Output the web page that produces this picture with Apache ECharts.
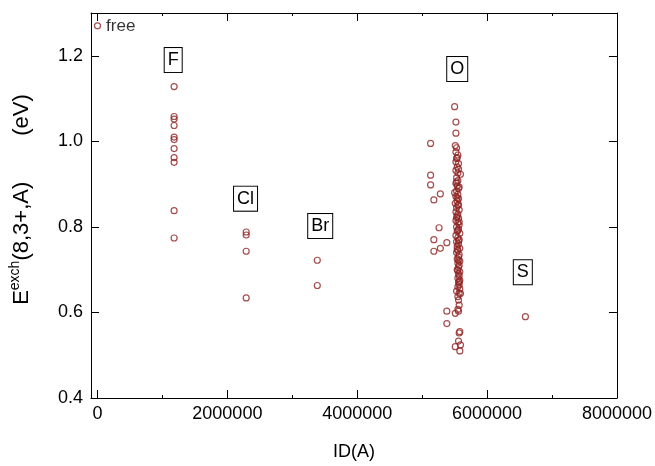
<!DOCTYPE html>
<html>
<head>
<meta charset="utf-8">
<script src="https://cdn.jsdelivr.net/npm/echarts@6/dist/echarts.min.js"></script>
<style>html,body{margin:0;padding:0;background:#fff}#c{width:655px;height:466px}</style>
</head>
<body>
<div id="c"></div>
<script>
// ---- data ----
const xTicks = [0, 2000000, 4000000, 6000000, 8000000];
const xMinorTicks = [1000000, 3000000, 5000000, 7000000];
const yTicks = [0.4, 0.6, 0.8, 1.0, 1.2];

const freePoints = [[0, 1.27]];
const fPoints = [[1180000,1.128],[1180000,1.058],[1180000,1.052],[1180000,1.037],[1180000,1.010],[1180000,1.004],[1180000,0.983],[1180000,0.962],[1180000,0.951],[1180000,0.838],[1180000,0.774]];
const clPoints = [[2290000,0.788],[2290000,0.781],[2290000,0.743],[2290000,0.634]];
const brPoints = [[3385000,0.722],[3385000,0.663]];
const sPoints = [[6590000,0.590]];
const oPoints = [
 [5500000,1.081],[5520000,1.045],[5520000,1.019],[5510000,0.990],[5530000,0.985],[5520000,0.975],
 [5550000,0.968],[5530000,0.960],[5520000,0.952],[5560000,0.948],[5540000,0.940],[5520000,0.932],
 [5550000,0.926],[5590000,0.923],[5530000,0.915],[5550000,0.908],[5520000,0.902],[5540000,0.896],
 [5560000,0.890],[5530000,0.884],[5500000,0.880],[5550000,0.876],[5520000,0.871],[5560000,0.866],
 [5540000,0.860],[5510000,0.855],[5550000,0.850],[5530000,0.845],[5570000,0.840],[5520000,0.835],
 [5550000,0.830],[5540000,0.825],[5560000,0.820],[5520000,0.815],[5550000,0.810],[5570000,0.805],
 [5530000,0.800],[5560000,0.795],[5540000,0.790],[5580000,0.785],[5520000,0.780],[5550000,0.775],
 [5570000,0.770],[5530000,0.765],[5560000,0.760],[5540000,0.755],[5580000,0.750],[5550000,0.745],
 [5530000,0.740],[5570000,0.735],[5560000,0.730],[5540000,0.725],[5580000,0.720],[5550000,0.715],
 [5570000,0.710],[5560000,0.705],[5540000,0.700],[5580000,0.695],[5560000,0.690],[5570000,0.685],
 [5550000,0.680],[5580000,0.675],[5560000,0.670],[5570000,0.665],[5550000,0.660],[5580000,0.655],
 [5530000,0.650],[5570000,0.645],[5590000,0.644],[5550000,0.637],[5560000,0.629],[5570000,0.617],
 [5550000,0.607],[5560000,0.603],[5510000,0.598],[5580000,0.555],[5570000,0.552],[5560000,0.533],
 [5510000,0.520],[5590000,0.524],[5580000,0.510],
 [5540000,0.962],[5560000,0.935],[5530000,0.905],[5570000,0.893],[5540000,0.868],[5560000,0.852],
 [5530000,0.822],[5570000,0.812],[5550000,0.792],[5560000,0.768],[5540000,0.748],[5560000,0.722],
 [5550000,0.698],[5570000,0.672],
 [5130000,0.995],[5130000,0.921],[5130000,0.898],[5280000,0.877],[5180000,0.863],[5260000,0.798],
 [5180000,0.770],[5380000,0.763],[5280000,0.750],[5180000,0.743],[5380000,0.603],[5380000,0.574]
];
const boxNames = ['F', 'Cl', 'Br', 'O', 'S'];
const boxX = [1166000, 2280000, 3430000, 5540000, 6550000];
const boxY = [1.19, 0.866, 0.802, 1.169, 0.694];

// ---- chart ----
const FONT = 'Liberation Sans, Arial, Helvetica, sans-serif';
const RED = '#8f2222';
const chart = echarts.init(document.getElementById('c'), null, {renderer: 'canvas'});

const ptStyle = {color: 'transparent', borderColor: RED, borderWidth: 1.2};
function sc(data, extra) {
  return Object.assign({
    type: 'scatter', data: data, symbol: 'circle', symbolSize: 6,
    itemStyle: ptStyle, emphasis: {disabled: true}, silent: true, animation: false,
    xAxisIndex: 0, yAxisIndex: 0
  }, extra || {});
}

const lineStyle = {color: '#000', width: 1};
const baseX = {
  type: 'value', min: -100000, max: 8000000,
  splitLine: {show: false}, axisLine: {show: true, onZero: false, lineStyle: lineStyle}
};
const baseY = {
  type: 'value', min: 0.4, max: 1.3,
  splitLine: {show: false}, axisLine: {show: true, onZero: false, lineStyle: lineStyle}
};

const option = {
  animation: false,
  backgroundColor: '#fff',
  grid: {left: 90, right: 38, top: 13, bottom: 66, containLabel: false},
  xAxis: [
    Object.assign({}, baseX, {
      position: 'bottom',
      name: 'ID(A)', nameLocation: 'middle', nameGap: 45,
      nameTextStyle: {fontSize: 18, fontFamily: FONT, color: '#000'},
      axisTick: {show: true, inside: true, length: 8, lineStyle: lineStyle, customValues: xTicks},
      axisLabel: {show: true, fontSize: 18, fontFamily: FONT, color: '#000', margin: 7, customValues: xTicks,
        formatter: v => String(v)}
    }),
    Object.assign({}, baseX, {
      position: 'bottom', axisLine: {show: false},
      axisTick: {show: true, inside: true, length: 3, lineStyle: lineStyle, customValues: xMinorTicks},
      axisLabel: {show: false}
    }),
    Object.assign({}, baseX, {
      position: 'top',
      axisTick: {show: true, inside: true, length: 8, lineStyle: lineStyle, customValues: xTicks},
      axisLabel: {show: false}
    }),
    Object.assign({}, baseX, {
      position: 'top', axisLine: {show: false},
      axisTick: {show: true, inside: true, length: 3, lineStyle: lineStyle, customValues: xMinorTicks},
      axisLabel: {show: false}
    })
  ],
  yAxis: [
    Object.assign({}, baseY, {
      position: 'left',
      name: '{e|E}{s|exch}{e|(8,3+,A)}{g|}{e|(eV)}',
      nameLocation: 'middle', nameGap: 56,
      nameTextStyle: {
        fontFamily: FONT, color: '#000', padding: [0, 0, 0, 12],
        rich: {
          e: {fontSize: 22, fontFamily: FONT, color: '#000', lineHeight: 27},
          s: {fontSize: 14, fontFamily: FONT, color: '#000', lineHeight: 15, verticalAlign: 'top'},
          g: {width: 46}
        }
      },
      axisTick: {show: true, inside: true, length: 8, lineStyle: lineStyle, customValues: yTicks},
      axisLabel: {show: true, fontSize: 18, fontFamily: FONT, color: '#000', margin: 8, customValues: yTicks,
        formatter: v => Number(v).toFixed(1)}
    }),
    Object.assign({}, baseY, {
      position: 'right',
      axisTick: {show: true, inside: true, length: 8, lineStyle: lineStyle, customValues: yTicks},
      axisLabel: {show: false}
    })
  ],
  series: [
    sc(freePoints, {
      label: {show: true, position: 'right', distance: 5, formatter: 'free',
        fontSize: 17, fontFamily: FONT, color: '#000'}
    }),
    sc(fPoints),
    sc(clPoints),
    sc(brPoints),
    sc(oPoints),
    sc(sPoints),
    {
      type: 'scatter', symbol: 'circle', symbolSize: 1, silent: true, animation: false,
      emphasis: {disabled: true}, z: 5,
      itemStyle: {color: 'transparent', opacity: 0},
      data: boxNames.map((n, i) => ({name: n, value: [boxX[i], boxY[i]]})),
      label: {
        show: true, position: 'inside', formatter: '{b}', opacity: 1,
        fontSize: 18, fontFamily: FONT, color: '#000', lineHeight: 18,
        borderColor: '#000', borderWidth: 1, padding: [3, 3, 3, 3], backgroundColor: '#fff'
      }
    }
  ]
};
chart.setOption(option);
</script>
</body>
</html>
